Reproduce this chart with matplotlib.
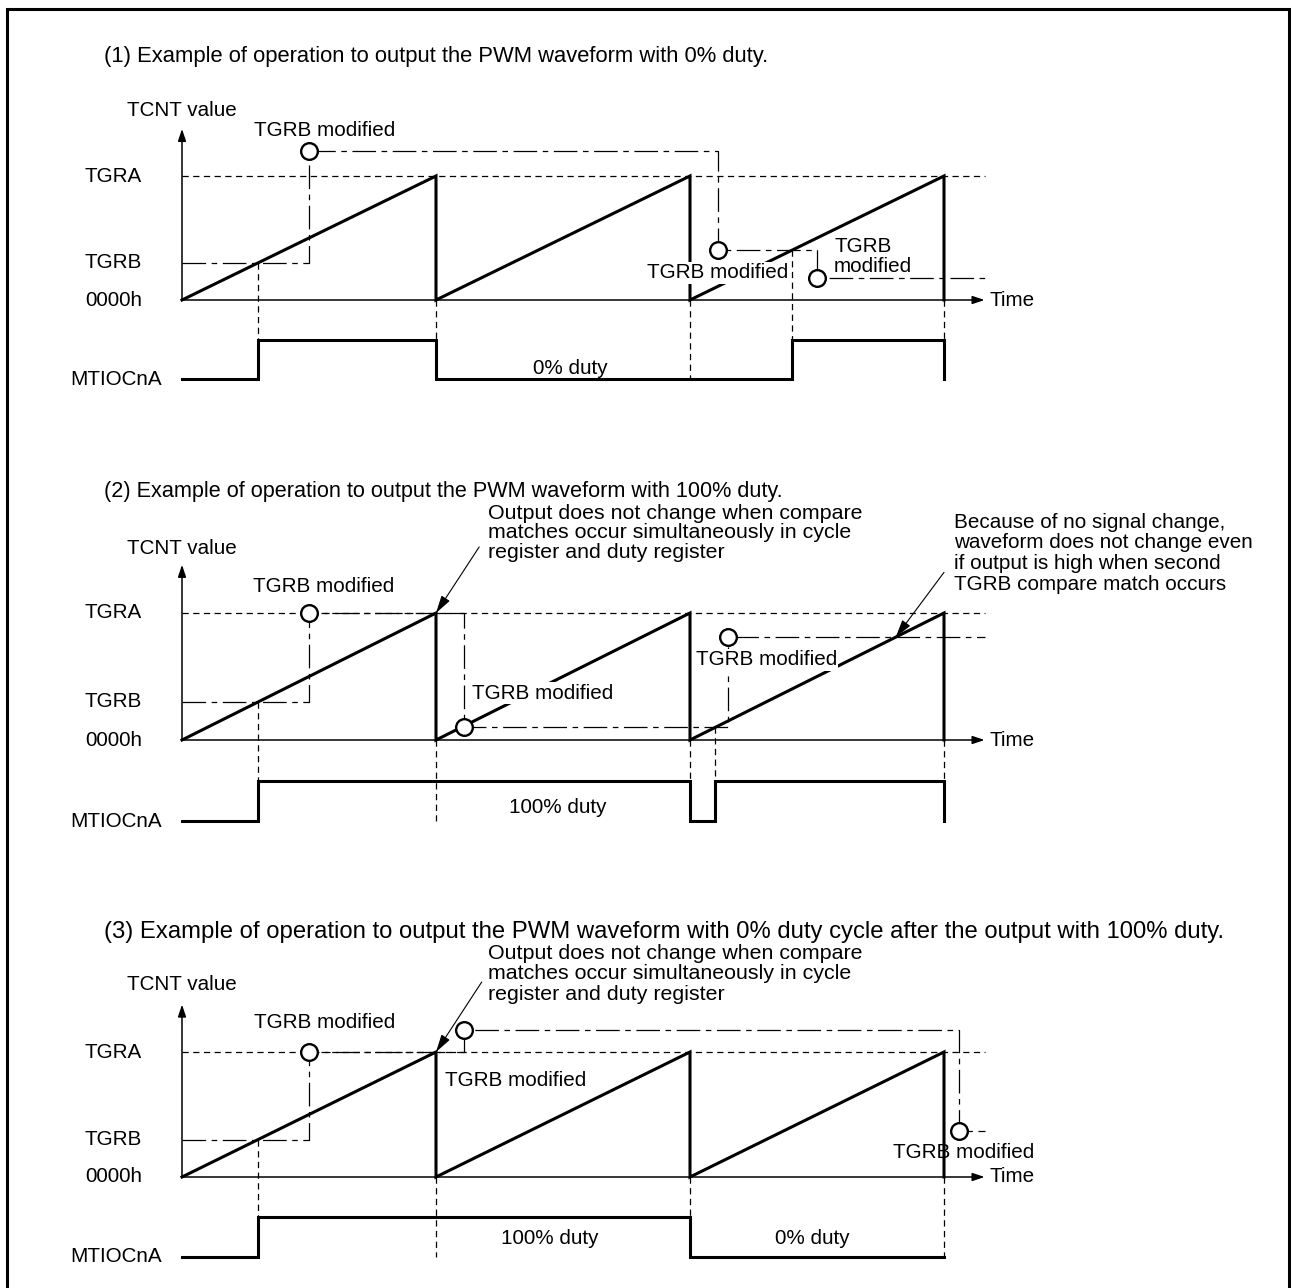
import matplotlib
matplotlib.use("Agg")
import matplotlib.pyplot as plt
from matplotlib.lines import Line2D

plt.rcParams['font.family'] = ['Liberation Sans', 'DejaVu Sans']
plt.rcParams['lines.scale_dashes'] = False

# ---------------------------------------------------------------- data
# time in PWM cycles (one TGRA period = 1), TCNT value in units of TGRA
saw_t = [0, 1, 1, 2, 2, 3, 3]
saw_v = [0, 1, 0, 1, 0, 1, 0]
time_end = 3.16
tcnt_top = 1.38
level_names = ['TGRA', 'TGRB', '0000h']
level_values = [1.0, 0.3, 0.0]

# panel 1 : 0 % duty
p1_title = "(1) Example of operation to output the PWM waveform with 0% duty."
p1_tgrb_t = [0, 0.5, 0.5, 2.11, 2.11, 2.5, 2.5, 3.16]
p1_tgrb_v = [0.3, 0.3, 1.2, 1.2, 0.4, 0.4, 0.18, 0.18]
p1_mod_t = [0.5, 2.11, 2.5]
p1_mod_v = [1.2, 0.4, 0.18]
p1_out_t = [0, 0.3, 0.3, 1, 1, 2.4, 2.4, 3, 3]
p1_out_s = [0, 0, 1, 1, 0, 0, 1, 1, 0]
p1_drop_t = [0.3, 1, 2, 2.4, 3]
p1_drop_v = [0.3, 0, 0, 0.4, 0]

# panel 2 : 100 % duty
p2_title = "(2) Example of operation to output the PWM waveform with 100% duty."
p2_tgrb_t = [0, 0.5, 0.5, 1.11, 1.11, 2.15, 2.15, 3.16]
p2_tgrb_v = [0.3, 0.3, 1.0, 1.0, 0.1, 0.1, 0.81, 0.81]
p2_mod_t = [0.5, 1.11, 2.15]
p2_mod_v = [1.0, 0.1, 0.81]
p2_out_t = [0, 0.3, 0.3, 2, 2, 2.1, 2.1, 3, 3]
p2_out_s = [0, 0, 1, 1, 0, 0, 1, 1, 0]
p2_drop_t = [0.3, 1, 2, 2.1, 3]
p2_drop_v = [0.3, 0, 0, 0.1, 0]

# panel 3 : 0 % duty after 100 % duty
p3_title = ("(3) Example of operation to output the PWM waveform with 0% duty cycle "
            "after the output with 100% duty.")
p3_tgrb_t = [0, 0.5, 0.5, 1.11, 1.11, 3.06, 3.06, 3.16]
p3_tgrb_v = [0.3, 0.3, 1.0, 1.0, 1.18, 1.18, 0.37, 0.37]
p3_mod_t = [0.5, 1.11, 3.06]
p3_mod_v = [1.0, 1.18, 0.37]
p3_out_t = [0, 0.3, 0.3, 2, 2, 3]
p3_out_s = [0, 0, 1, 1, 0, 0]
p3_drop_t = [0.3, 1, 2, 3]
p3_drop_v = [0.3, 0, 0, 0]

note_simul = ("Output does not change when compare\n"
              "matches occur simultaneously in cycle\n"
              "register and duty register")
note_second = ("Because of no signal change,\n"
               "waveform does not change even\n"
               "if output is high when second\n"
               "TGRB compare match occurs")

# ---------------------------------------------------------------- layout
W, H, DPI = 1291, 1288, 100
X0_PX, PERIOD_PX = 182, 254
FS = 14.9
FS_NOTE = 15.4
OUT_HIGH, OUT_LOW = -0.32, -0.64
LW_THICK, LW_AX, LW_THIN = 2.2, 1.1, 0.9
DASH = (4.5, 3.2)
DASHDOT = (17, 4, 4, 4)

fig = plt.figure(figsize=(W / DPI, H / DPI), dpi=DPI)
fig.patch.set_facecolor('white')

# frame (bottom edge falls outside the picture)
fx = [7 / W, 7 / W, 1289 / W, 1289 / W]
fy = [-0.01, 1 - 9 / H, 1 - 9 / H, -0.01]
fig.add_artist(Line2D(fx, fy, transform=fig.transFigure, color='k', lw=2.2,
                      solid_joinstyle='miter'))


def make_axes(base_px, unit_px, top_px, bot_px):
    ax = fig.add_axes([0, 1 - bot_px / H, 1, (bot_px - top_px) / H])
    ax.set_xlim(-X0_PX / PERIOD_PX, (W - X0_PX) / PERIOD_PX)
    ax.set_ylim((base_px - bot_px) / unit_px, (base_px - top_px) / unit_px)
    ax.axis('off')
    return ax


def arrow(ax, xy, xytext, lw=LW_AX, hl=0.6, hw=0.2, ms=12):
    ax.annotate('', xy=xy, xytext=xytext,
                arrowprops=dict(arrowstyle=f'-|>,head_length={hl},head_width={hw}',
                                lw=lw, color='k', mutation_scale=ms,
                                shrinkA=0, shrinkB=0), zorder=6)


def draw_panel(ax, title, title_fs, title_v, tcnt_v, tgrb_t, tgrb_v, mod_t, mod_v,
               out_t, out_s, drop_t, drop_v):
    lab_x = -0.382
    ax.text(-0.307, title_v, title, fontsize=title_fs, ha='left', va='center')
    ax.text(0, tcnt_v, 'TCNT value', fontsize=FS, ha='center', va='center')
    for name, val in zip(level_names, level_values):
        ax.text(lab_x, val, name, fontsize=FS, ha='left', va='center')
    ax.text(-0.44, OUT_LOW, 'MTIOCnA', fontsize=FS, ha='left', va='center')
    ax.text(3.18, 0, 'Time', fontsize=FS, ha='left', va='center')

    # axes
    arrow(ax, (0, tcnt_top), (0, 0))
    arrow(ax, (time_end, 0), (0, 0))
    # TGRA level
    ax.plot([0, time_end], [1, 1], color='k', lw=LW_THIN, dashes=DASH)
    # TGRB register history
    ax.plot(tgrb_t, tgrb_v, color='k', lw=LW_THIN, dashes=DASHDOT)
    # compare match drop lines
    for t, v in zip(drop_t, drop_v):
        ax.plot([t, t], [v, OUT_LOW], color='k', lw=LW_THIN, dashes=DASH)
    # counter
    ax.plot(saw_t, saw_v, color='k', lw=LW_THICK, solid_joinstyle='miter', zorder=3)
    # output pin
    lv = [OUT_LOW, OUT_HIGH]
    ax.plot(out_t, [lv[s] for s in out_s], color='k', lw=LW_THICK,
            solid_joinstyle='miter', zorder=3)
    # modification events
    ax.plot(mod_t, mod_v, 'o', ms=12, mfc='white', mec='k', mew=1.7, zorder=7)


WB = dict(facecolor='white', edgecolor='none', pad=1.0)

# panel 1
ax1 = make_axes(300, 124, 0, 438)
draw_panel(ax1, p1_title, 15.8, 1.96, 1.532, p1_tgrb_t, p1_tgrb_v, p1_mod_t, p1_mod_v,
           p1_out_t, p1_out_s, p1_drop_t, p1_drop_v)
ax1.text(0.561, 1.363, 'TGRB modified', fontsize=FS, ha='center', va='center')
ax1.text(2.108, 0.218, 'TGRB modified', fontsize=FS, ha='center', va='center',
         bbox=WB, zorder=5)
ax1.text(2.567, 0.351, 'TGRB\nmodified', fontsize=FS, ha='left', va='center',
         linespacing=1.08)
ax1.text(1.528, -0.556, '0% duty', fontsize=FS, ha='center', va='center')

# panel 2
ax2 = make_axes(740, 127, 438, 876)
draw_panel(ax2, p2_title, 15.6, 1.96, 1.504, p2_tgrb_t, p2_tgrb_v, p2_mod_t, p2_mod_v,
           p2_out_t, p2_out_s, p2_drop_t, p2_drop_v)
ax2.text(0.557, 1.205, 'TGRB modified', fontsize=FS, ha='center', va='center')
ax2.text(1.419, 0.37, 'TGRB modified', fontsize=FS, ha='center', va='center',
         bbox=WB, zorder=5)
ax2.text(2.3, 0.63, 'TGRB modified', fontsize=FS, ha='center', va='center',
         bbox=WB, zorder=5)
ax2.text(1.48, -0.53, '100% duty', fontsize=FS, ha='center', va='center')
ax2.text(1.205, 1.63, note_simul, fontsize=FS_NOTE, ha='left', va='center',
         linespacing=1.06)
arrow(ax2, (1.0, 1.0), (1.17, 1.52), lw=0.8, hl=0.9, hw=0.25, ms=12)
ax2.text(3.04, 1.469, note_second, fontsize=FS, ha='left', va='center',
         linespacing=1.13)
arrow(ax2, (2.81, 0.81), (3.0, 1.32), lw=0.8, hl=0.9, hw=0.25, ms=12)

# panel 3
ax3 = make_axes(1177, 125, 876, 1288)
draw_panel(ax3, p3_title, 17.2, 1.96, 1.536, p3_tgrb_t, p3_tgrb_v, p3_mod_t, p3_mod_v,
           p3_out_t, p3_out_s, p3_drop_t, p3_drop_v)
ax3.text(0.561, 1.24, 'TGRB modified', fontsize=FS, ha='center', va='center')
ax3.text(1.315, 0.776, 'TGRB modified', fontsize=FS, ha='center', va='center')
ax3.text(3.076, 0.2, 'TGRB modified', fontsize=FS, ha='center', va='center')
ax3.text(1.449, -0.496, '100% duty', fontsize=FS, ha='center', va='center')
ax3.text(2.48, -0.496, '0% duty', fontsize=FS, ha='center', va='center')
ax3.text(1.205, 1.625, note_simul, fontsize=FS_NOTE, ha='left', va='center',
         linespacing=1.08)
arrow(ax3, (1.0, 1.0), (1.18, 1.56), lw=0.8, hl=0.9, hw=0.25, ms=12)

fig.savefig('out.png', dpi=DPI, facecolor='white')
